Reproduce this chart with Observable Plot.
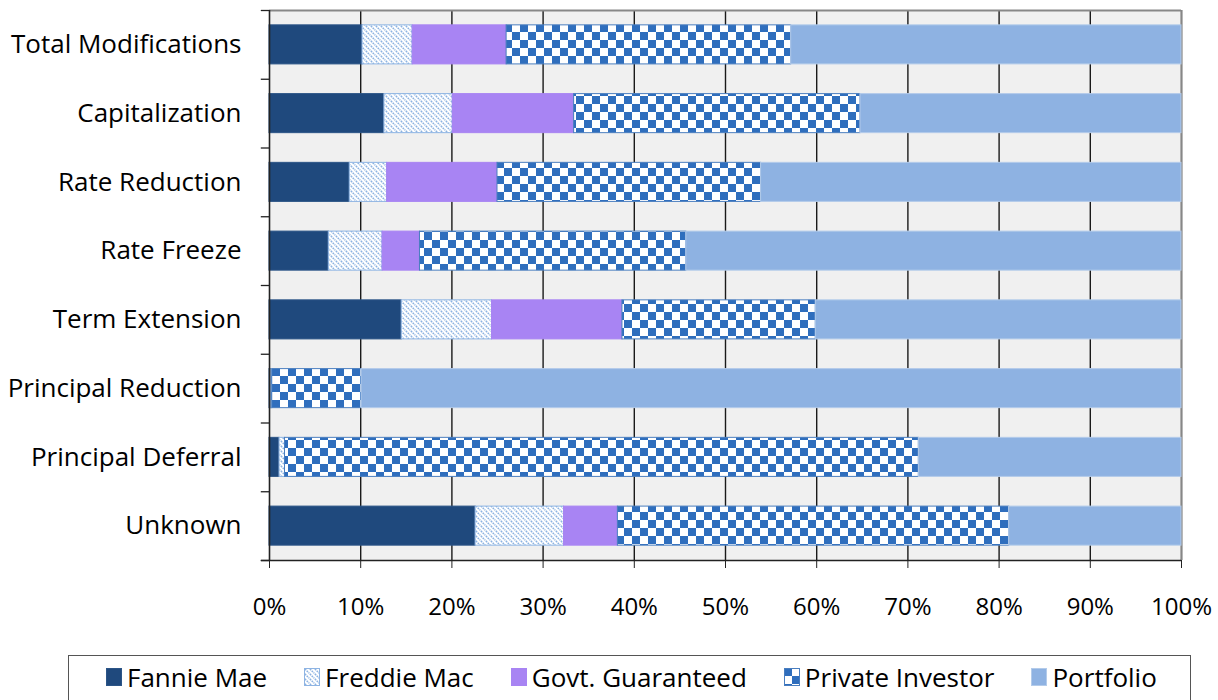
<!DOCTYPE html>
<html><head><meta charset="utf-8">
<script src="https://cdn.jsdelivr.net/npm/d3@7"></script>
<script src="https://cdn.jsdelivr.net/npm/@observablehq/plot@0.6"></script>
<style>
body{margin:0;background:#fff;font-family:"Open Sans",sans-serif;}
#wrap{position:relative;width:1218px;height:700px;overflow:hidden;}
#legend{position:absolute;left:68px;top:655px;width:1123px;height:70px;border:1.5px solid #555;box-sizing:border-box;
  display:flex;align-items:flex-start;padding-top:3px;padding-left:37px;gap:37px;font-size:26px;color:#000;}
.item{display:flex;align-items:center;gap:5px;line-height:36px;}
.item svg{display:block;}
</style></head><body>
<svg width="0" height="0" style="position:absolute">
  <defs>
    <pattern id="freddie" patternUnits="userSpaceOnUse" width="5" height="5">
      <rect width="5" height="5" fill="#fff"/>
      <path d="M-1,-1L6,6M4,-1L6,1M-1,4L1,6" stroke="#8db3e2" stroke-width="1.5" stroke-dasharray="1.8,0.8"/>
    </pattern>
    <pattern id="checker" patternUnits="userSpaceOnUse" width="16" height="16">
      <rect width="16" height="16" fill="#fff"/>
      <rect width="8" height="8" fill="#2f6ebd"/>
      <rect x="8" y="8" width="8" height="8" fill="#2f6ebd"/>
    </pattern>
  </defs>
</svg>
<div id="wrap"><div id="chart"></div><div id="legend"></div></div>
<script>
const categories = ["Total Modifications","Capitalization","Rate Reduction","Rate Freeze","Term Extension","Principal Reduction","Principal Deferral","Unknown"];
const seriesNames = ["Fannie Mae","Freddie Mac","Govt. Guaranteed","Private Investor","Portfolio"];
const fannieMae       = [10.2, 12.6,  8.8,  6.5, 14.5,  0.2,  1.1, 22.6];
const freddieMac      = [ 5.5,  7.5,  4.1,  5.9,  9.9,  0.1,  0.6,  9.7];
const govtGuaranteed  = [10.3, 13.3, 12.1,  4.1, 14.3,  0.0,  0.0,  5.9];
const privateInvestor = [31.2, 31.4, 28.9, 29.2, 21.2,  9.8, 69.5, 42.9];
const portfolio       = [42.8, 35.2, 46.1, 54.3, 40.1, 89.9, 28.8, 18.9];
const xTicks = [0,10,20,30,40,50,60,70,80,90,100];

const seriesValues = [fannieMae, freddieMac, govtGuaranteed, privateInvestor, portfolio];
const fills = ["#1f497d","url(#freddie)","#a884f3","url(#checker)","#8eb2e2"];
const strokes = ["#2c5587","#8eb4e3","#a884f3","#4a7ebf","#b3cbea"];

// stacked rows
const rows = [];
categories.forEach((c, i) => {
  let acc = 0;
  seriesValues.forEach((vals, s) => {
    const v = vals[i];
    rows.push({cat: c, idx: i, series: seriesNames[s], s, x1: acc, x2: acc + v});
    acc += v;
  });
});

const half = 0.284;
const barMarks = seriesNames.map((name, s) =>
  Plot.rectX(rows.filter(r => r.s === s && r.x2 > r.x1), {
    x1: "x1", x2: "x2",
    y1: r => r.idx - half, y2: r => r.idx + half,
    fill: fills[s], stroke: strokes[s], strokeWidth: 1
  })
);

const plot = Plot.plot({
  width: 1218, height: 640,
  marginLeft: 269, marginRight: 37, marginTop: 10, marginBottom: 80,
  style: {fontFamily: "'Open Sans', sans-serif", fontSize: "24px", color: "#000", background: "transparent"},
  x: {domain: [0, 100]},
  y: {domain: [categories.length - 0.5, -0.5]},
  marks: [
    Plot.frame({fill: "#f0f0f0", stroke: "none"}),
    Plot.ruleX(xTicks.slice(1, -1), {stroke: "#1a1a1a", strokeWidth: 1.4}),
    Plot.ruleX([100], {stroke: "#878787", strokeWidth: 2.2}),
    Plot.ruleY([-0.5], {x1: 0, x2: 100, stroke: "#878787", strokeWidth: 2.2}),
    ...barMarks,
    Plot.ruleX([0], {stroke: "#222", strokeWidth: 1.6}),
    Plot.ruleY(d3.range(categories.length + 1).map(i => i - 0.5), {x1: -0.9, x2: 0, stroke: "#222", strokeWidth: 1.3}),
    Plot.ruleY([categories.length - 0.5], {x1: -0.9, x2: 100, stroke: "#222", strokeWidth: 1.6}),
    Plot.axisY(d3.range(categories.length), {tickSize: 0, tickPadding: 28, tickFormat: i => categories[i], fontSize: 26}),
    Plot.axisX(xTicks, {tickSize: 8, tickPadding: 29, tickFormat: d => d + "%", fontSize: 24, stroke: "#222"})
  ]
});
document.getElementById("chart").appendChild(plot);

// legend
const legend = d3.select("#legend");
seriesNames.forEach((name, s) => {
  const it = legend.append("div").attr("class", "item");
  const sw = it.append("svg").attr("width", 16).attr("height", 18);
  sw.append("rect").attr("x", 0.5).attr("y", 0.5).attr("width", 15).attr("height", 17)
    .attr("fill", fills[s]).attr("stroke", strokes[s]).attr("stroke-width", 1);
  it.append("span").text(name);
});
</script>
</body></html>
